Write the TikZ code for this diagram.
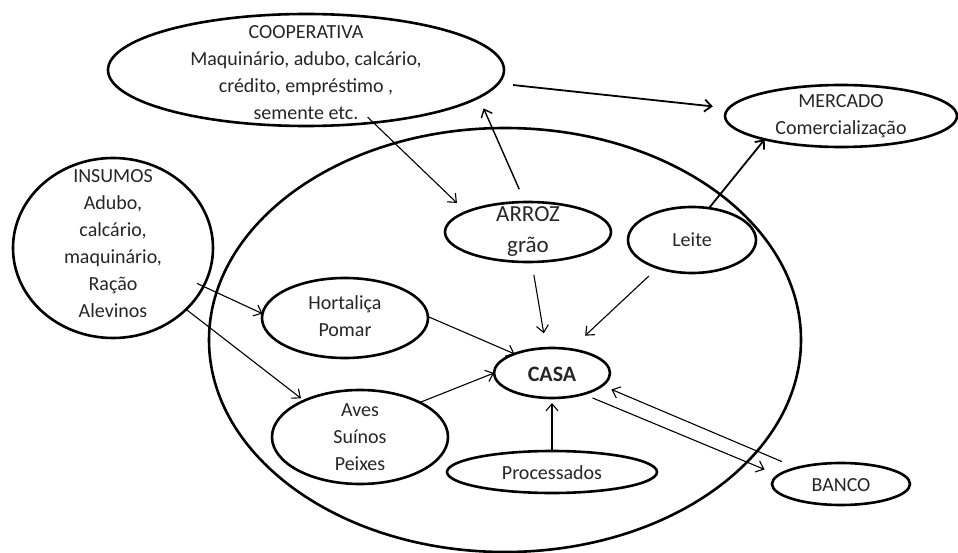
\documentclass[tikz,border=0pt]{standalone}
\usepackage{fontspec}
\setmainfont{Carlito}
\usetikzlibrary{shapes.geometric,arrows.meta}
\begin{document}
\begin{tikzpicture}[x=1pt,y=-1pt,
  bub/.style={ellipse, draw, line width=2.6pt, inner sep=0pt, outer sep=0pt},
  txt/.style={align=center, font=\fontsize{20}{27}\selectfont, inner sep=0pt, text=black!85},
  arr/.style={-{Straight Barb[length=7pt,width=12pt]}, line width=1.1pt},
  arrthick/.style={arr, line width=1.8pt}
]
\useasboundingbox (0,0) rectangle (958,553);
% bubbles
\node[bub, minimum width=592pt, minimum height=424pt] (big) at (505,340) {};
\node[bub, minimum width=396pt, minimum height=112pt] (coop) at (306,70) {};
\node[bub, minimum width=232pt, minimum height=62pt] (merc) at (841,116) {};
\node[bub, minimum width=200pt, minimum height=180pt] (ins) at (113,248) {};
\node[bub, minimum width=166pt, minimum height=60pt] (arroz) at (528,232) {};
\node[bub, minimum width=128pt, minimum height=66pt] (leite) at (692,240) {};
\node[bub, minimum width=166pt, minimum height=80pt] (hort) at (345,318) {};
\node[bub, minimum width=176pt, minimum height=94pt] (aves) at (360,437) {};
\node[bub, minimum width=116pt, minimum height=50pt] (casa) at (552,373) {};
\node[bub, minimum width=210pt, minimum height=42pt] (proc) at (552,472) {};
\node[bub, minimum width=138pt, minimum height=42pt] (banco) at (841,484) {};
% texts
\node[txt] (cooptxt) at (306,73) {COOPERATIVA\\Maquinário, adubo, calcário,\\crédito, empréstimo ,\\semente etc.};
\node[txt] (merctxt) at (841,116) {MERCADO\\Comercialização};
\node[txt] (instxt) at (113,244) {INSUMOS\\Adubo,\\calcário,\\maquinário,\\Ração\\Alevinos};
\node[txt, font=\fontsize{23}{31}\selectfont] (arroztxt) at (528,232) {ARROZ\\grão};
\node[txt] (leitetxt) at (692,240) {Leite};
\node[txt] (horttxt) at (345,316) {Hortaliça\\Pomar};
\node[txt] (avestxt) at (360,437) {Aves\\Suínos\\Peixes};
\node[txt, font=\fontsize{22}{26}\selectfont\bfseries] (casatxt) at (552,374) {CASA};
\node[txt] (proctxt) at (552,473) {Processados};
\node[txt] (bancotxt) at (841,485) {BANCO};
% connectors
\draw[arr, shorten <=-8pt, shorten >=13pt] (coop.-38) -- (arroz.162);
\draw[arr, line width=1.4pt, shorten <=14pt, shorten >=12pt] (arroz.96) -- (coop.-9);
\draw[arrthick, shorten <=15pt, shorten >=16pt] (coop.-4) -- (merc.176);
\draw[arrthick] (leite.62) -- (merc.-163);
\draw[arr, shorten <=-7pt] (ins.-23) -- (hort.177);
\draw[arr, shorten >=4pt] (ins.-40) -- (aves.147);
\draw[arr] (hort.1) -- (casa.153);
\draw[arr] (aves.30) -- (casa.west);
\draw[arr, shorten <=13pt, shorten >=15pt] (arroz.-83) -- (casa.103);
\draw[arr, shorten <=12pt, shorten >=20pt] (leite.-141) -- (casa.52);
\draw[arr, shorten >=5pt] (proc.north) -- (casa.south);
\draw[arr, shorten <=16pt, shorten >=10pt] (banco.160) -- (casa.-14);
\draw[arr, shorten <=10pt, shorten >=15pt] (casa.-34) -- (banco.172);
\end{tikzpicture}
\end{document}
